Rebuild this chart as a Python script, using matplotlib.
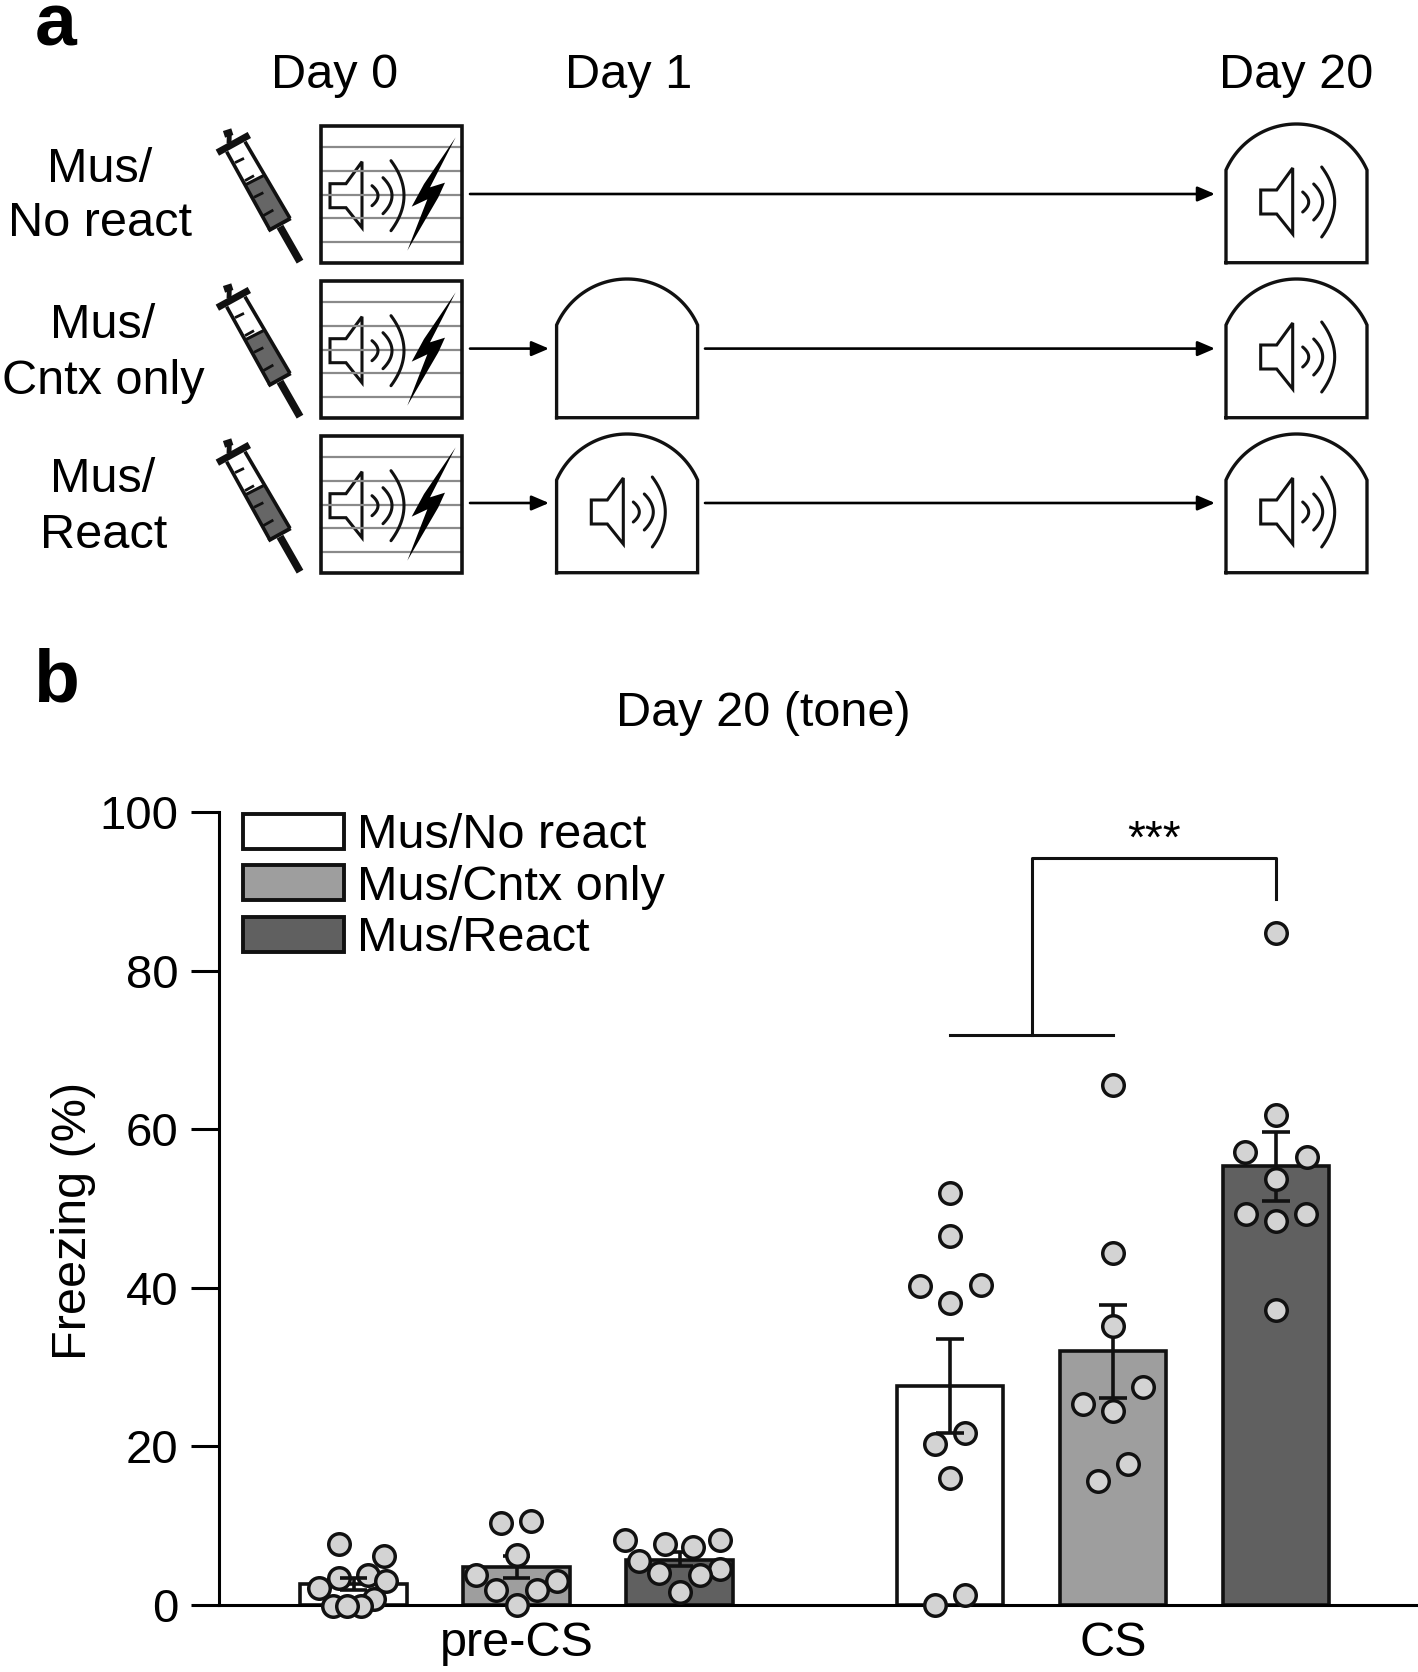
"""Freezing figure: protocol schematic (a) and bar/dot plot (b)."""
import numpy as np
import matplotlib
matplotlib.use('Agg')
import matplotlib.pyplot as plt
from matplotlib.patches import Patch, Polygon, Rectangle

plt.rcParams['font.family'] = ['Liberation Sans', 'DejaVu Sans']

W, H = 1418, 1672

# panel b data
positions = [0, 1, 2, 3.66, 4.66, 5.66]
group_labels = ['pre-CS', 'CS']
group_ticks = [1, 4.66]
names = ['Mus/No react', 'Mus/Cntx only', 'Mus/React']
colors = ['white', '#9e9e9e', '#606060', 'white', '#9e9e9e', '#606060']
heights = [2.6, 4.7, 5.6, 27.6, 32.0, 55.3]
err_low = [1.8, 3.4, 4.9, 21.7, 26.1, 51.0]
err_high = [3.4, 6.1, 6.6, 33.5, 37.8, 59.6]
err_on_top = [True, False, False, True, False, False]

dots_y = [
    [7.7, 6.1, 3.7, 3.3, 3.0, 2.1, 0.7, -0.2, -0.2, -0.2],
    [10.3, 10.5, 6.3, 3.7, 3.0, 1.8, 1.8, -0.1],
    [8.1, 8.1, 7.7, 7.3, 5.5, 4.5, 4.0, 3.7, 1.6],
    [51.9, 46.5, 40.2, 40.3, 38.1, 21.7, 20.3, 16.0, 0.0, 1.2],
    [65.6, 44.4, 35.1, 27.5, 25.3, 24.4, 17.8, 15.6],
    [84.8, 61.8, 57.1, 56.5, 53.7, 49.3, 49.3, 48.4, 37.2],
]
dots_off = [
    [-.092, .186, .092, -.092, .2, -.21, .125, -.127, .043, -.04],
    [-.094, .092, 0, -.25, .25, -.127, .123, 0],
    [-.333, .25, -.086, .082, -.25, .25, -.127, .123, 0],
    [0, 0, -.184, .188, 0, .094, -.092, 0, -.092, .094],
    [0, 0, 0, .186, -.186, 0, .094, -.092],
    [0, 0, -.19, .19, 0, -.186, .186, 0, 0],
]

fig = plt.figure(figsize=(W / 100, H / 100), dpi=100)

# --- panel b ---
ax = fig.add_axes([218.6 / W, 1 - 1604.5 / H, (1416 - 218.6) / W, (1604.5 - 812.4) / H])
ax.set_xlim((218.6 - 353.5) / 163, (1416 - 353.5) / 163)
ax.set_ylim(0, 100)
ax.bar(positions, heights, width=0.655, color=colors, edgecolor='#111111', linewidth=2.6, zorder=2)
for i, x in enumerate(positions):
    z = 5 if err_on_top[i] else 3
    ax.vlines(x, err_low[i], err_high[i], color='#111111', lw=2.6, zorder=z)
    ax.hlines([err_low[i], err_high[i]], x - 0.085, x + 0.085, color='#111111', lw=2.6, zorder=z)
    ax.scatter(x + np.array(dots_off[i]), dots_y[i], s=240, color='#d3d3d3', edgecolor='#111111',
               linewidth=2.5, zorder=4, clip_on=False)

ax.plot([3.66, 4.66], [71.9, 71.9], color='#111111', lw=2.2)
ax.plot([4.16, 4.16, 5.66, 5.66], [71.9, 94.3, 94.3, 89.1], color='#111111', lw=2.2)
ax.text(4.91, 96.4, '***', ha='center', va='center', fontsize=33)

for s in ['top', 'right']:
    ax.spines[s].set_visible(False)
ax.spines['left'].set_linewidth(2.2)
ax.spines['bottom'].set_linewidth(2.2)
ax.set_yticks(range(0, 101, 20))
ax.tick_params(axis='y', length=20, width=2.2, labelsize=34, pad=9)
ax.set_xticks(group_ticks)
ax.set_xticklabels(group_labels)
ax.tick_params(axis='x', length=0, labelsize=35, pad=12)

handles = [Patch(facecolor=colors[i], edgecolor='#111111', linewidth=2.8) for i in range(3)]
ax.legend(handles, names, loc='upper left', bbox_to_anchor=(0.0205, 0.999), frameon=False, fontsize=35,
          handlelength=2.08, handleheight=0.72, labelspacing=0.135, handletextpad=0.27, borderaxespad=0,
          borderpad=0.0)

# --- overlay in pixel coordinates for panel a and loose text ---
ov = fig.add_axes([0, 0, 1, 1], zorder=-1)
ov.set_xlim(0, W)
ov.set_ylim(H, 0)
ov.axis('off')

LK = '#111111'


def speaker(x0, y0):
    # same icon in the shock box and the chambers
    pts = np.array([(0, -12), (16, -12), (32, -34), (32, 32), (16, 12), (0, 12)])
    ov.add_patch(Polygon(pts + [x0, y0], closed=True, fc='none', ec=LK, lw=2.2, joinstyle='miter'))
    for (dx, half, bulge) in [(42, 10, 6), (53, 18, 9), (61, 35, 13)]:
        t = np.linspace(-1, 1, 25)
        ov.plot(x0 + dx + bulge * (1 - t ** 2), y0 + half * t, color=LK, lw=2.2, solid_capstyle='round')


def shock_box(top):
    left = 320.7
    for dy in [21.6, 45.6, 69, 92.6, 116.6]:
        ov.plot([left, left + 141], [top + dy, top + dy], color='#8a8a8a', lw=1.6)
    ov.add_patch(Rectangle((left, top), 141.3, 137.3, fc='none', ec=LK, lw=2.6, zorder=3))
    speaker(330, top + 70)
    bolt = np.array([(767, 82), (672, 222), (635, 290), (682, 268), (622, 422),
                     (715, 262), (735, 218), (690, 232)]) / 3 + [200, top - 15.7]
    ov.add_patch(Polygon(bolt, closed=True, fc='black', ec='none', zorder=3))


def chamber(left, top, tone):
    a0 = np.arcsin(70.5 / 77)
    a = np.linspace(-a0, a0, 60)
    xs = left + 70.5 + 77 * np.sin(a)
    ys = top + 77 - 77 * np.cos(a)
    xs = np.r_[left, xs, left + 141, left]
    ys = np.r_[top + 138.7, ys, top + 138.7, top + 138.7]
    ov.plot(xs, ys, color=LK, lw=2.4, solid_joinstyle='miter')
    if tone:
        speaker(left + 34.7, top + 78)


def syringe(top):
    def P(*pts):
        return np.array(pts) / 3 + [200, top - 15.7]
    ov.add_patch(Polygon(P((135, 225), (190, 197), (268, 325), (210, 360)), closed=True,
                         fc='#666666', ec='none'))
    for pts, lw in [(((52, 128), (148, 75)), 5.0), (((87, 100), (88, 72)), 3.5), (((72, 73), (97, 65)), 5.0),
                    (((80, 125), (210, 360)), 2.6), (((135, 95), (270, 325)), 2.6),
                    (((205, 362), (272, 325)), 2.8), (((135, 225), (190, 197)), 2.2),
                    (((240, 350), (300, 455)), 5.5),
                    (((105, 158), (132, 145)), 2.0), (((135, 212), (162, 197)), 2.0),
                    (((162, 262), (190, 248)), 2.0), (((190, 317), (220, 300)), 2.0)]:
        q = P(*pts)
        ov.plot(q[:, 0], q[:, 1], color=LK, lw=lw, solid_capstyle='butt')


def arrow(x0, x1, y):
    ov.annotate('', xy=(x1, y), xytext=(x0, y),
                arrowprops=dict(arrowstyle='-|>,head_length=0.75,head_width=0.32', color='black', lw=1.9,
                                mutation_scale=14, shrinkA=0, shrinkB=0))


tops = [125.7, 280.7, 435.7]
for top in tops:
    syringe(top)
    shock_box(top)
    chamber(1226, top - 1.7, True)
chamber(556.6, tops[1] - 1.7, False)
chamber(556.6, tops[2] - 1.7, True)

arrow(470, 1215, 194)
arrow(470, 549, 348.6)
arrow(705, 1215, 348.6)
arrow(470, 549, 503)
arrow(705, 1215, 503)

for x, y, s in [(100, 169, 'Mus/'), (100, 224, 'No react'), (103, 325, 'Mus/'), (103, 381, 'Cntx only'),
                (103, 480, 'Mus/'), (104, 535, 'React'),
                (335, 75, 'Day 0'), (629, 75, 'Day 1'), (1296.5, 75, 'Day 20'),
                (763, 713, 'Day 20 (tone)')]:
    ov.text(x, y, s, ha='center', va='center', fontsize=35)
ov.text(74, 1221, 'Freezing (%)', rotation=90, ha='center', va='center', fontsize=35)
ov.text(56, 45, 'a', ha='center', va='baseline', fontsize=54, fontweight='bold')
ov.text(56, 701, 'b', ha='center', va='baseline', fontsize=54, fontweight='bold')

fig.savefig('out.png', dpi=100)
plt.close()
